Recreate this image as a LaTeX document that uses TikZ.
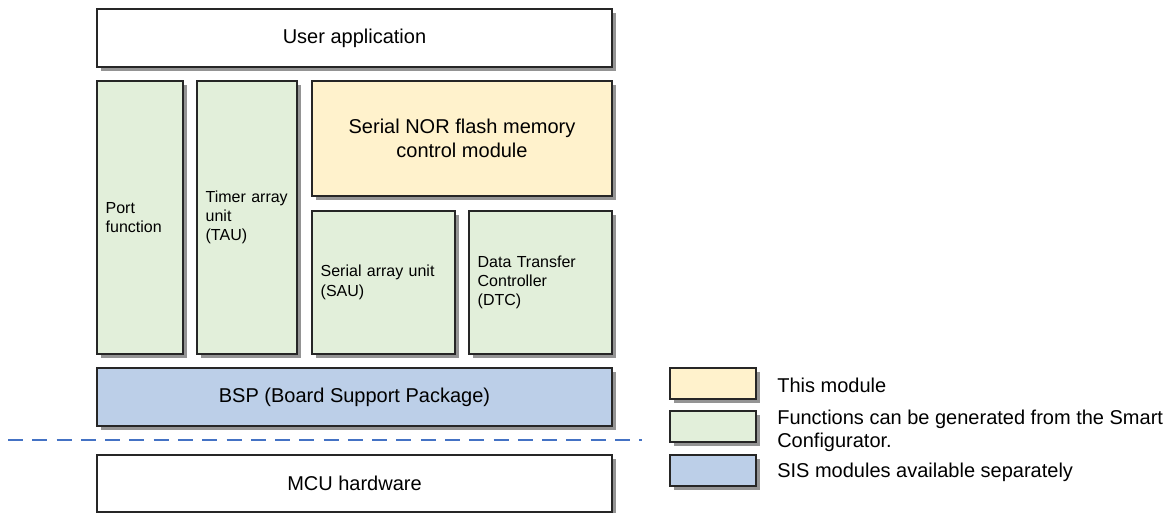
\documentclass[tikz,border=0pt]{standalone}
\usepackage{fontspec}
\setmainfont{Liberation Sans}
\usepackage{xcolor}
\usepackage{tikz}
\usetikzlibrary{shadows}

\definecolor{modyellow}{HTML}{FFF2CC}
\definecolor{cfggreen}{HTML}{E2EFDA}
\definecolor{bspblue}{HTML}{BCCFE8}
\definecolor{cutblue}{HTML}{4472C4}

\begin{document}
\begin{tikzpicture}[x=0.75pt, y=-0.75pt,
    blk/.style={rectangle, draw=black!85, line width=0.8pt, anchor=north west,
        inner sep=0pt, outer sep=0pt,
        drop shadow={shadow xshift=3.3pt, shadow yshift=-3.3pt, fill=black!42, opacity=1}},
    size/.style 2 args={minimum width=#1*0.75pt, minimum height=#2*0.75pt},
    big/.style={font=\fontsize{15}{17.5}\selectfont, align=center},
    small/.style={font=\fontsize{12}{14.5}\selectfont, align=left, inner xsep=6.5pt},
    keytext/.style={anchor=west, inner sep=0pt, font=\fontsize{15}{17}\selectfont, align=left}]
    \useasboundingbox (0,0) rectangle (1169,513);

    % software stack
    \node[blk, fill=white, size={515}{58}, big] (user) at (97,9) {User application};

    \node[blk, fill=cfggreen, size={86}{273}, small, text width=51.5pt] (port) at (97,81)
        {Port\\function};
    \node[blk, fill=cfggreen, size={100}{273}, small, text width=62pt] (tau) at (197,81)
        {Timer array\\unit\\(TAU)};
    \node[blk, fill=modyellow, size={300}{115}, big] (nor) at (312,81)
        {Serial NOR flash memory\\control module};
    \node[blk, fill=cfggreen, size={143}{143}, small, text width=94.25pt] (sau) at (312,211)
        {Serial array unit\\(SAU)};
    \node[blk, fill=cfggreen, size={143}{143}, small, text width=94.25pt] (dtc) at (469,211)
        {Data Transfer\\Controller\\(DTC)};

    \node[blk, fill=bspblue, size={515}{58}, big] (bsp) at (97,368) {BSP (Board Support Package)};

    % software / hardware border
    \coordinate (cutL) at (8,440);
    \coordinate (cutR) at (642,440);
    \draw[cutblue, line width=1.5pt, dash pattern=on 11.25pt off 6.96pt] (cutL) -- (cutR);

    \node[blk, fill=white, size={515}{57}, big] (mcu) at (97,455) {MCU hardware};

    % legend
    \node[blk, fill=modyellow, size={86}{31}] (keyNor) at (670,368) {};
    \node[blk, fill=cfggreen, size={86}{31}] (keyCfg) at (670,411) {};
    \node[blk, fill=bspblue, size={86}{31}] (keySis) at (670,455) {};

    \node[keytext] (keyNorTxt) at (777,385) {This module};
    \node[keytext] (keyCfgTxt) at (777,431) {Functions can be generated from the Smart\\Configurator.};
    \node[keytext] (keySisTxt) at (777,472) {SIS modules available separately};
\end{tikzpicture}
\end{document}
